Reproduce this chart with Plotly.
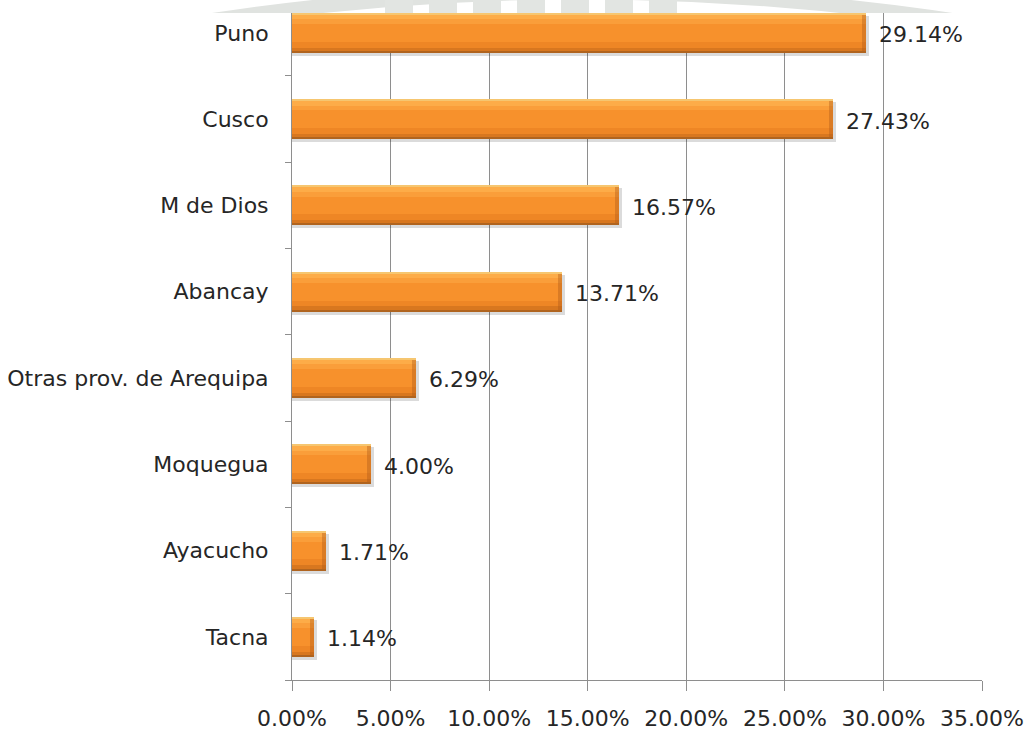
import plotly.graph_objects as go

# Procedencia por región (porcentaje)
categories = ["Tacna", "Ayacucho", "Moquegua", "Otras prov. de Arequipa",
              "Abancay", "M de Dios", "Cusco", "Puno"]
values = [1.14, 1.71, 4.00, 6.29, 13.71, 16.57, 27.43, 29.14]
x_ticks = [0, 5, 10, 15, 20, 25, 30, 35]
x_tick_labels = [f"{t:.2f}%" for t in x_ticks]

W, H = 1027, 733
L, R, T, B = 292, 45, 13, 53
plot_w, plot_h = W - L - R, H - T - B
Y_TOP = 7.23          # top of category range (first bar slightly clipped)
BAR_W = 0.463         # bar thickness in category units
px_per_cat = plot_h / (Y_TOP + 0.5)
px_per_pct = plot_w / 35.0

FONT = "DejaVu Sans"
FSIZE = 22
TXT = "#262626"


def px(x, y):
    """pixel position -> 'x,y' string in paper coordinates"""
    return f"{(x - L) / plot_w:.5f},{(H - B - y) / plot_h:.5f}"


def paper_x(x):
    return (x - L) / plot_w


def paper_y(y):
    return (H - B - y) / plot_h


fig = go.Figure()

# soft drop shadow under each bar
dy = 3 / px_per_cat
dx = 3 / px_per_pct
fig.add_trace(go.Bar(
    y=categories, x=[v + dx for v in values], orientation="h",
    width=BAR_W, offset=-BAR_W / 2 - dy,
    marker=dict(color="rgba(0,0,0,0.14)", line_width=0),
    hoverinfo="skip", showlegend=False))

# horizontal colour bands give each bar its rounded, glossy look
bands = [
    (0.00, 0.05, "#F6C670"),
    (0.05, 0.16, "#FDAC48"),
    (0.16, 0.28, "#FA9E3A"),
    (0.28, 0.72, "#F7912C"),
    (0.72, 0.87, "#EE8625"),
    (0.87, 0.95, "#D8771F"),
    (0.95, 1.00, "#B0641F"),
]
for a, b, col in bands:
    fig.add_trace(go.Bar(
        y=categories, x=values, orientation="h",
        width=(b - a) * BAR_W, offset=BAR_W / 2 - b * BAR_W,
        marker=dict(color=col, line_width=0),
        hoverinfo="skip", showlegend=False))

# darker bevel at the end of each bar
cap = 4 / px_per_pct
fig.add_trace(go.Bar(
    y=categories, x=[cap] * len(values), base=[v - cap for v in values],
    orientation="h", width=BAR_W * 0.9, offset=-BAR_W * 0.45,
    marker=dict(color="rgba(175,90,25,0.40)", line_width=0),
    hoverinfo="skip", showlegend=False))

# value labels
annotations = []
for c, v in zip(categories, values):
    annotations.append(dict(
        x=v, y=c, xref="x", yref="y", text=f"{v:.2f}%", showarrow=False,
        xanchor="left", yanchor="middle", xshift=11, yshift=-2,
        font=dict(family=FONT, size=FSIZE, color=TXT)))

# faint watermark peeking above the chart area
shapes = [
    dict(type="path", xref="paper", yref="paper", layer="below",
         path=f"M {px(150, 30)} Q {px(580, -45)} {px(1015, 30)}",
         line=dict(color="#E0E3E0", width=14)),
]
for x0 in range(385, 650, 44):
    shapes.append(dict(
        type="rect", xref="paper", yref="paper", layer="below",
        x0=paper_x(x0), x1=paper_x(x0 + 28), y0=paper_y(14), y1=paper_y(-2),
        line=dict(width=0), fillcolor="#E2E5E2"))
# white chart area hides the watermark below its top edge
shapes.append(dict(
    type="rect", xref="paper", yref="paper", layer="below",
    x0=paper_x(0), x1=paper_x(W), y0=paper_y(H), y1=paper_y(T),
    line=dict(width=0), fillcolor="white"))

fig.update_layout(
    width=W, height=H,
    margin=dict(l=L, r=R, t=T, b=B, autoexpand=False),
    paper_bgcolor="white", plot_bgcolor="white",
    barmode="overlay", bargap=0,
    annotations=annotations, shapes=shapes,
    font=dict(family=FONT, size=FSIZE, color=TXT),
    xaxis=dict(
        range=[0, 35], tickvals=x_ticks, ticktext=x_tick_labels,
        automargin=False,
        showgrid=True, gridcolor="#8E8E8E", gridwidth=1,
        showline=True, linecolor="#8E8E8E", linewidth=1,
        ticks="outside", ticklen=10, tickcolor="#8E8E8E",
        ticklabelstandoff=9, zeroline=False,
        tickfont=dict(family=FONT, size=FSIZE, color=TXT)),
    yaxis=dict(
        type="category", categoryorder="array", categoryarray=categories,
        range=[-0.5, Y_TOP], showgrid=False, automargin=False,
        showline=True, linecolor="#8E8E8E", linewidth=1,
        ticks="outside", ticklen=6, tickcolor="#8E8E8E",
        tickson="boundaries", ticklabelstandoff=18,
        tickfont=dict(family=FONT, size=FSIZE, color=TXT)),
)

fig.write_html("out.html")
